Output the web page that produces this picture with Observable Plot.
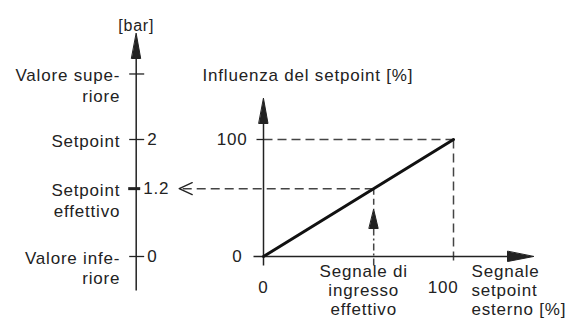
<!DOCTYPE html>
<html>
<head>
<meta charset="utf-8">
<script src="https://cdn.jsdelivr.net/npm/d3@7"></script>
<script src="https://cdn.jsdelivr.net/npm/@observablehq/plot@0.6"></script>
<style>
  html, body { margin: 0; padding: 0; background: #fff; }
  svg { display: block; }
  svg text { letter-spacing: 0.8px; }
</style>
</head>
<body>
<div id="chart"></div>
<script>
// ---- data ----
const leftLabels = ["Valore supe-\nriore", "Setpoint", "Setpoint\neffettivo", "Valore infe-\nriore"];
const leftValues = ["", "2", "1.2", "0"];
const leftLevels = [156, 100, 58, 0];          // position on the shared % scale
const effectiveInput = 58;                      // % (→ 1.2 bar)
const influence = [{x: 0, y: 0}, {x: 100, y: 100}];
const xTicks = [0, 100];
const xTickLabels = ["0", "100"];
const yTicks = [0, 100];
const yTickLabels = ["0", "100"];
const unitLeft = "[bar]";
const titleRight = "Influenza del setpoint [%]";
const labelEff = "Segnale di\ningresso\neffettivo";
const labelExt = "Segnale\nsetpoint\nesterno [%]";

// ---- layout helpers (pixel lengths → data units) ----
const px = n => n * 100 / 190;
const py = n => n * 100 / 117;
const leftX = -67;
const ink = "#222", dash = "#444", fs = 17;

const filledHead = {draw(ctx, l, r) { ctx.moveTo(0, -l); ctx.lineTo(r, 0); ctx.lineTo(-r, 0); ctx.closePath(); }};
const openHead = {draw(ctx, l, r) { ctx.moveTo(-r, 0); ctx.lineTo(0, -l); ctx.lineTo(r, 0); }};

const leftTicks = leftLevels.map((y, i) => ({y, label: leftLabels[i], value: leftValues[i], bold: leftValues[i] === "1.2"}));

const chart = Plot.plot({
  width: 569,
  height: 324,
  x: {domain: [0, 100], range: [263, 453], axis: null},
  y: {domain: [0, 100], range: [256, 139], axis: null},
  style: {fontFamily: "Liberation Sans, Arial, sans-serif", background: "#fff"},
  marks: [
    // dashed guides
    Plot.link([{}], {x1: 0, x2: 100, y1: 100, y2: 100, stroke: dash, strokeWidth: 1.5, strokeDasharray: "9,5"}),
    Plot.link([{}], {x1: 100, x2: 100, y1: 100, y2: -py(9), stroke: dash, strokeWidth: 1.5, strokeDasharray: "9,5"}),
    Plot.link([{}], {x1: effectiveInput, x2: leftX + px(44), y1: effectiveInput, y2: effectiveInput, stroke: dash, strokeWidth: 1.5, strokeDasharray: "9,5"}),
    Plot.link([{}], {x1: effectiveInput, x2: effectiveInput, y1: effectiveInput, y2: py(47), stroke: dash, strokeWidth: 1.5, strokeDasharray: "6,4"}),
    Plot.link([{}], {x1: effectiveInput, x2: effectiveInput, y1: py(28), y2: -py(9), stroke: dash, strokeWidth: 1.5, strokeDasharray: "7,3,2,3"}),
    Plot.vector([{}], {x: effectiveInput, y: py(47), rotate: 0, length: 19, r: 4.5, anchor: "end", shape: filledHead, fill: ink, stroke: ink, strokeWidth: 1}),
    Plot.vector([{}], {x: leftX + px(43), y: effectiveInput, rotate: 270, length: 13, r: 6, anchor: "end", shape: openHead, stroke: ink, strokeWidth: 1.4}),

    // left axis
    Plot.link([{}], {x1: leftX, x2: leftX, y1: -py(34), y2: py(215), stroke: ink, strokeWidth: 1.5}),
    Plot.vector([{}], {x: leftX, y: py(223), rotate: 0, length: 25, r: 4.5, anchor: "end", shape: filledHead, fill: ink, stroke: ink, strokeWidth: 1}),
    Plot.link(leftTicks, {x1: d => leftX - px(d.bold ? 8 : 7), x2: d => leftX + px(d.bold ? 4 : 8), y1: "y", y2: "y", stroke: ink, strokeWidth: d => d.bold ? 3 : 1.3}),
    Plot.text([unitLeft], {x: leftX, y: py(223), dy: -8, text: d => d, fill: ink, fontSize: 16, textAnchor: "middle"}),
    Plot.text(leftTicks, {x: leftX, y: "y", text: "label", dx: -16, dy: -7, textAnchor: "end", lineAnchor: "top", lineHeight: 1.2, fill: ink, fontSize: fs}),
    Plot.text(leftTicks, {x: d => leftX + px(d.bold ? 7 : 11), y: "y", text: "value", textAnchor: "start", fill: ink, fontSize: fs}),

    // right axes
    Plot.link([{}], {x1: 0, x2: 0, y1: -py(9), y2: py(150), stroke: ink, strokeWidth: 1.5}),
    Plot.vector([{}], {x: 0, y: py(158), rotate: 0, length: 25, r: 4.5, anchor: "end", shape: filledHead, fill: ink, stroke: ink, strokeWidth: 1}),
    Plot.link([{}], {x1: -px(10), x2: px(262), y1: 0, y2: 0, stroke: ink, strokeWidth: 1.5}),
    Plot.vector([{}], {x: px(270), y: 0, rotate: 90, length: 26, r: 5, anchor: "end", shape: filledHead, fill: ink, stroke: ink, strokeWidth: 1}),
    Plot.link([{}], {x1: -px(7), x2: 0, y1: 100, y2: 100, stroke: ink, strokeWidth: 1.3}),

    // influence line
    Plot.line(influence, {x: "x", y: "y", stroke: "#111", strokeWidth: 3}),

    // texts
    Plot.text(yTicks, {x: d => d === 0 ? -px(21) : -px(16), y: d => d, text: (d, i) => yTickLabels[i], textAnchor: "end", fill: ink, fontSize: fs}),
    Plot.text(xTicks, {x: d => d, y: 0, text: (d, i) => xTickLabels[i], dx: 5, dy: 31, textAnchor: "end", fill: ink, fontSize: fs}),
    Plot.text([titleRight], {x: 0, y: py(158), text: d => d, dx: -61, dy: -23, textAnchor: "start", fill: ink, fontSize: fs}),
    Plot.text([labelEff], {x: effectiveInput, y: 0, text: d => d, dx: -10, dy: 7, textAnchor: "middle", lineAnchor: "top", lineHeight: 1.12, fill: ink, fontSize: fs}),
    Plot.text([labelExt], {x: 100, y: 0, text: d => d, dx: 18, dy: 7, textAnchor: "start", lineAnchor: "top", lineHeight: 1.12, fill: ink, fontSize: fs})
  ]
});
document.getElementById("chart").appendChild(chart);
</script>
</body>
</html>
